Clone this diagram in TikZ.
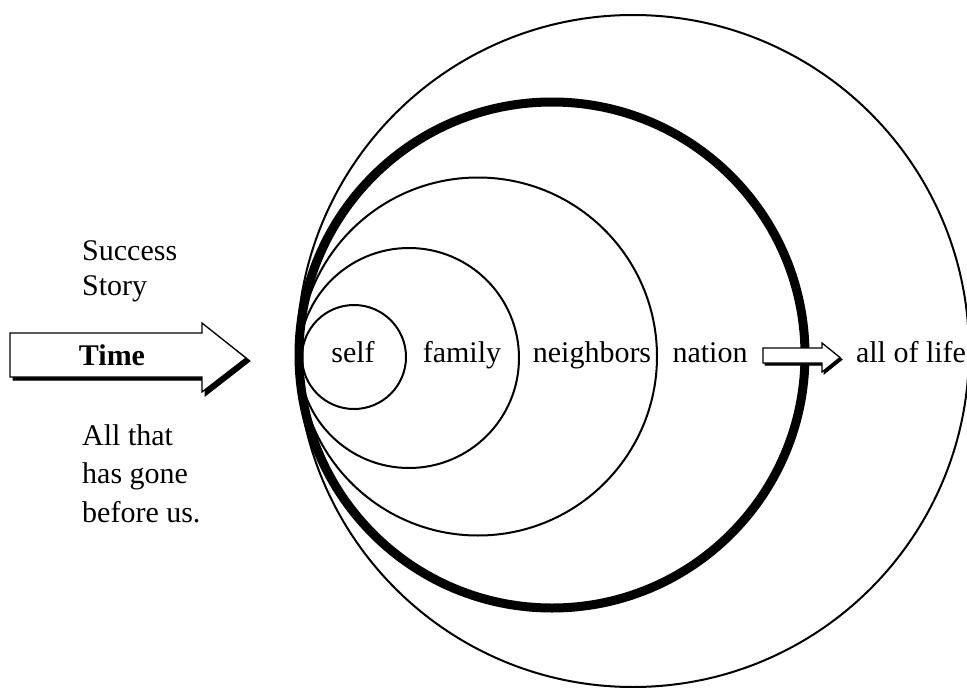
\documentclass[tikz,border=0pt]{standalone}
\usepackage{fontspec}
\setmainfont{Liberation Serif}
\begin{document}
\begin{tikzpicture}[x=1pt,y=-1pt,
  ring/.style={circle, draw, inner sep=0pt, line width=2pt},
  thickring/.style={circle, draw, inner sep=0pt, line width=9pt},
  lbl/.style={font=\fontsize{30}{37}\selectfont, anchor=base, inner sep=0pt},
  side/.style={font=\fontsize{30}{37}\selectfont, anchor=base west, inner sep=0pt},
  arrowshadow/.style={fill=black, draw=black, line width=1pt, line join=miter},
  arrowbody/.style={fill=white, draw=black, line width=1.3pt, line join=miter}]
\useasboundingbox (0,0) rectangle (967,688);
\begin{scope}
\clip (0,0) rectangle (967,688);
\node[ring, minimum size=672pt] (life) at (633,351) {};
\node[thickring, minimum size=506pt] (nation) at (552,355) {};
\node[ring, minimum size=358pt] (neighbors) at (478,356.5) {};
\node[ring, minimum size=220pt] (family) at (409,358) {};
\node[ring, minimum size=104pt] (self) at (354,357) {};
\end{scope}
% Time arrow
\fill[arrowshadow] (13,336) -- (205,336) -- (205,326) -- (250,361) -- (205,396) -- (205,380) -- (13,380) -- cycle;
\draw[arrowbody] (10,333) -- (202,333) -- (202,323) -- (246,358) -- (202,392) -- (202,377) -- (10,377) -- cycle;
\node[lbl, font=\fontsize{30}{37}\selectfont\bfseries] (time) at (112,365) {Time};
% small arrow
\fill[arrowshadow] (765,350) -- (824,350) -- (824,345) -- (842,359.5) -- (824,374) -- (824,365) -- (765,365) -- cycle;
\draw[arrowbody] (763,348) -- (822,348) -- (822,343) -- (840,357.5) -- (822,372) -- (822,363) -- (763,363) -- cycle;
% labels
\node[lbl] (tself) at (353,362) {self};
\node[lbl] (tfamily) at (462,362) {family};
\node[lbl] (tneighbors) at (592,362) {neighbors};
\node[lbl] (tnation) at (710,362) {nation};
\node[lbl] (tlife) at (911,362) {all of life};
\node[side] (success) at (82,260) {Success};
\node[side] (story) at (82,295) {Story};
\node[side] (allthat) at (82,445) {All that};
\node[side] (hasgone) at (82,483) {has gone};
\node[side] (beforeus) at (82,522) {before us.};
\end{tikzpicture}
\end{document}
